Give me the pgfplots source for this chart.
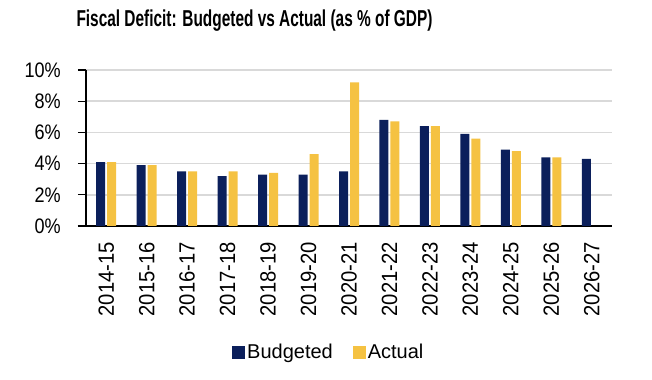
\documentclass[border=0pt]{standalone}
\usepackage{fontspec}
\setmainfont{Liberation Sans}
\newfontfamily\titlefont{Liberation Sans}[FakeStretch=0.67]
\newfontfamily\ytickfont{Liberation Sans}[FakeStretch=0.86]
\newfontfamily\xtickfont{Liberation Sans}[FakeStretch=0.92]
\usepackage{pgfplots}
\pgfplotsset{compat=1.18}
\definecolor{navy}{HTML}{0B1F5B}
\definecolor{gold}{HTML}{F5C242}
\definecolor{gridgray}{HTML}{D9D9D9}
\begin{document}
\begin{tikzpicture}[x=1bp,y=1bp]
\begin{axis}[
  at={(86bp,154bp)}, anchor=south west,
  scale only axis, width=526bp, height=156bp,
  ybar=2bp, bar width=9bp,
  xmin=-0.5, xmax=12.5, ymin=0, ymax=10,
  axis x line=bottom, axis y line=left,
  axis line style={black, line width=1.3bp, -},
  x axis line style={shorten <=-8bp},
  xtick=data,
  xticklabels={2014-15,2015-16,2016-17,2017-18,2018-19,2019-20,2020-21,2021-22,2022-23,2023-24,2024-25,2025-26,2026-27},
  xtick style={draw=none},
  xticklabel style={yshift=-8bp, rotate=90, anchor=east, font=\xtickfont\fontsize{22bp}{26bp}\selectfont, inner sep=0pt},
  ytick={0,2,4,6,8,10},
  yticklabel={\pgfmathprintnumber{\tick}\%},
  /pgf/number format/assume math mode=true,
  yticklabel style={font=\ytickfont\fontsize{21bp}{25bp}\selectfont, inner sep=0pt, xshift=-17bp},
  ytick style={black, line width=1.3bp},
  tick align=outside, major tick length=8bp,
  ymajorgrids, grid style={gridgray, line width=1.5bp},
  legend style={at={(0.2776,-0.8077)}, anchor=west, draw=none, fill=none,
    font=\fontsize{20bp}{24bp}\selectfont, legend columns=2, inner sep=0pt,
    /tikz/every even column/.append style={column sep=18bp}},
  legend cell align=left,
  legend image code/.code={\fill[#1] (0bp,-6.5bp) rectangle (13bp,6.5bp);},
]
\addplot[fill=navy, draw=none] coordinates {(0,4.1) (1,3.9) (2,3.5) (3,3.2) (4,3.3) (5,3.3) (6,3.5) (7,6.8) (8,6.4) (9,5.9) (10,4.9) (11,4.4) (12,4.3)};
\addplot[fill=gold, draw=none] coordinates {(0,4.1) (1,3.9) (2,3.5) (3,3.5) (4,3.4) (5,4.6) (6,9.2) (7,6.7) (8,6.4) (9,5.6) (10,4.8) (11,4.4)};
\legend{Budgeted, Actual}
\end{axis}
\node[font=\titlefont\bfseries\fontsize{23bp}{27bp}\selectfont, inner sep=0pt] at (254.5bp,359bp) {Fiscal Deficit: Budgeted vs Actual (as \% of GDP)};
\pgfresetboundingbox
\path (0,0) rectangle (652bp,380bp);
\end{tikzpicture}
\end{document}
